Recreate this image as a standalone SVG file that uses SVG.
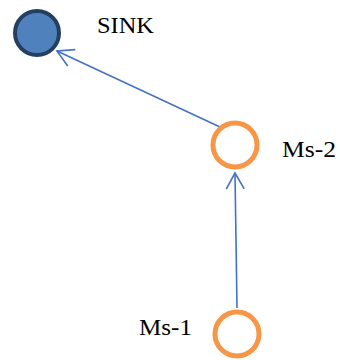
<svg xmlns="http://www.w3.org/2000/svg" width="340" height="360" viewBox="0 0 340 360">
  <style>
    .link { stroke: #4472C4; stroke-width: 1.6; fill: none; }
    .ms { fill: #FFFFFF; stroke: #F79646; stroke-width: 5; }
    .sink { fill: #4F81BD; stroke: #243F60; stroke-width: 4; }
    .label { font-family: "Liberation Serif", "Times New Roman", serif; fill: #000000; }
  </style>
  <defs>
    <marker id="open-arrow" markerUnits="userSpaceOnUse" viewBox="-18 -11 20 22" markerWidth="20" markerHeight="22" refX="0" refY="0" orient="auto">
      <path d="M-16,-9 L0,0 L-16,9" fill="none" stroke="#4472C4" stroke-width="1.6"/>
    </marker>
  </defs>
  <rect width="340" height="360" fill="#FFFFFF"/>
  <g id="connectors">
    <line class="link" x1="220" y1="127" x2="57" y2="51" marker-end="url(#open-arrow)"/>
    <line class="link" x1="237" y1="308" x2="235" y2="173" marker-end="url(#open-arrow)"/>
  </g>
  <g id="sink">
    <circle class="sink" cx="37" cy="33" r="22"/>
    <text class="label" x="97" y="33" font-size="23" textLength="57" lengthAdjust="spacingAndGlyphs">SINK</text>
  </g>
  <g id="ms-2">
    <circle class="ms" cx="235" cy="145" r="22"/>
    <text class="label" x="282" y="157" font-size="24" textLength="54" lengthAdjust="spacingAndGlyphs">Ms-2</text>
  </g>
  <g id="ms-1">
    <circle class="ms" cx="237" cy="334" r="22"/>
    <text class="label" x="139" y="335" font-size="24" textLength="53" lengthAdjust="spacingAndGlyphs">Ms-1</text>
  </g>
</svg>
